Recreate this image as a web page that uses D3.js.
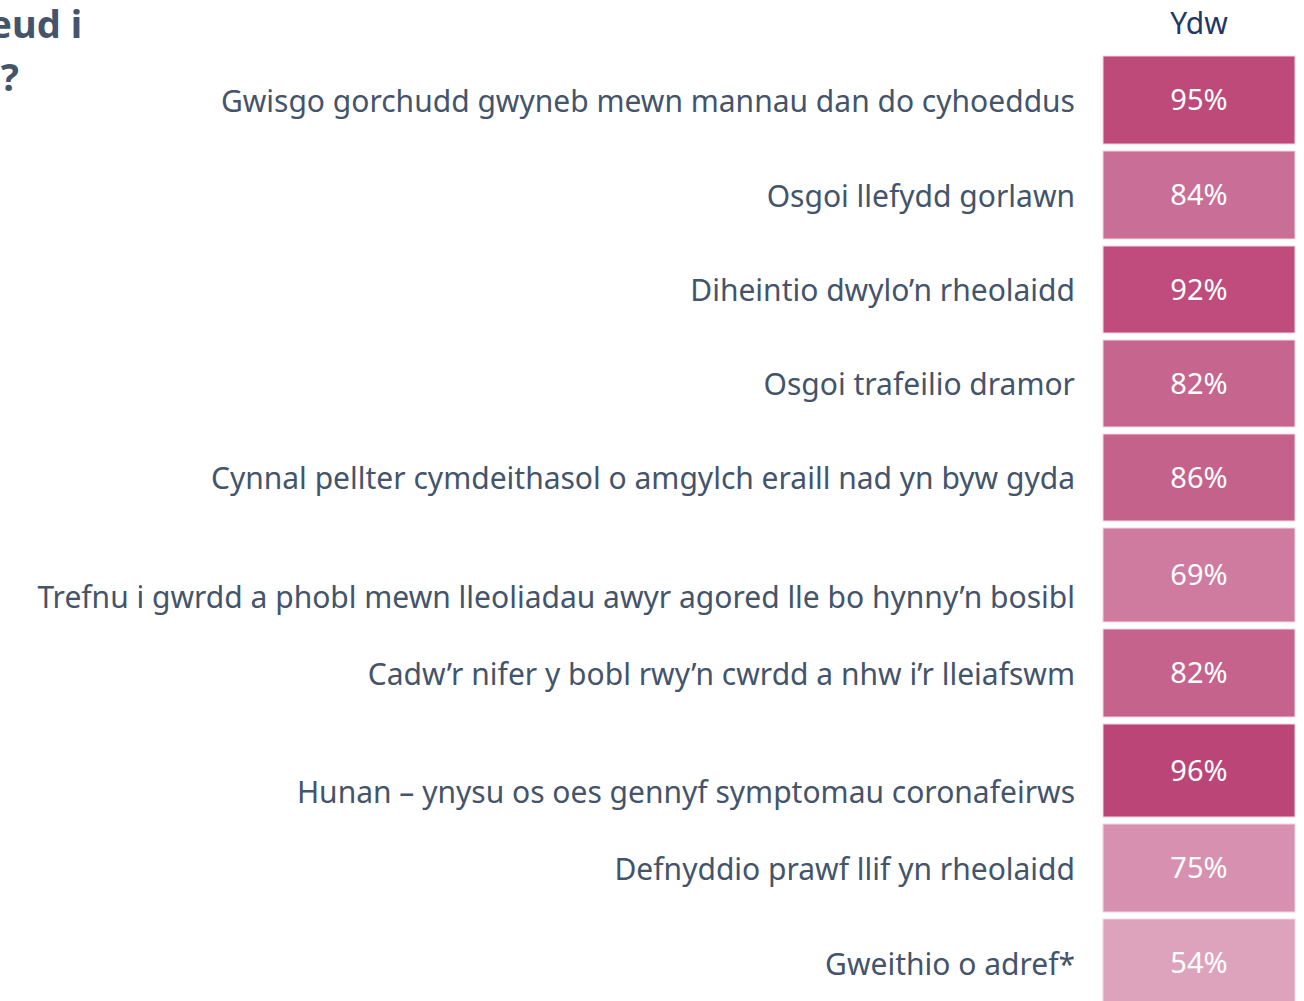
<!DOCTYPE html>
<html>
<head>
<meta charset="utf-8">
<script src="https://cdn.jsdelivr.net/npm/d3@7"></script>
<style>
  html, body { margin: 0; padding: 0; background: #fff; }
  svg { display: block; font-family: "Noto Sans", "Open Sans", sans-serif; }
</style>
</head>
<body>
<div id="chart"></div>
<script>
const labels = [
  "Gwisgo gorchudd gwyneb mewn mannau dan do cyhoeddus",
  "Osgoi llefydd gorlawn",
  "Diheintio dwylo’n rheolaidd",
  "Osgoi trafeilio dramor",
  "Cynnal pellter cymdeithasol o amgylch eraill nad yn byw gyda",
  "Trefnu i gwrdd a phobl mewn lleoliadau awyr agored lle bo hynny’n bosibl",
  "Cadw’r nifer y bobl rwy’n cwrdd a nhw i’r lleiafswm",
  "Hunan – ynysu os oes gennyf symptomau coronafeirws",
  "Defnyddio prawf llif yn rheolaidd",
  "Gweithio o adref*"
];
const column = "Ydw";
const values = [95, 84, 92, 82, 86, 69, 82, 96, 75, 54];
const cellColors = ["#be4a7a", "#c96e96", "#bf4c7c", "#c6668f", "#c5628c", "#cf7ba0", "#c5638d", "#bc4577", "#d890b0", "#dda3bd"];
const titleLines = ["eud i", "?"];

// layout: row heights (the 6th and 8th rows are a bit taller, their labels sit lower)
const rowHeights = [95, 95, 94, 94, 94, 101, 95, 100, 95, 95];
const labelShift = [0, 0, 0, 0, 0, 21, 0, 21, 0, 0];

const W = 1304, H = 1001;
const marginTop = 56, gap = 7;
const cellX0 = 1103, cellX1 = 1295;

const svg = d3.select("#chart").append("svg")
  .attr("width", W).attr("height", H);

// cumulative row positions
const rowTops = [];
rowHeights.reduce((acc, h) => { rowTops.push(acc); return acc + h; }, marginTop);

const x = d3.scaleBand().domain([column]).range([cellX0, cellX1]);

const rows = labels.map((l, i) => ({
  label: l, value: values[i], color: cellColors[i],
  y: rowTops[i], h: rowHeights[i] - gap, shift: labelShift[i]
}));

svg.selectAll("rect.cell")
  .data(rows)
  .join("rect")
  .attr("class", "cell")
  .attr("x", x(column))
  .attr("y", d => d.y)
  .attr("width", x.bandwidth())
  .attr("height", d => d.h)
  .attr("fill", d => d.color)
  .attr("stroke", "#f3d6e2")
  .attr("stroke-width", 1);

svg.selectAll("text.val")
  .data(rows)
  .join("text")
  .attr("class", "val")
  .attr("x", x(column) + x.bandwidth() / 2)
  .attr("y", d => d.y + d.h / 2)
  .attr("dy", "0.35em")
  .attr("text-anchor", "middle")
  .attr("fill", "#fff")
  .attr("font-size", 29)
  .text(d => d.value + "%");

svg.selectAll("text.lab")
  .data(rows)
  .join("text")
  .attr("class", "lab")
  .attr("x", 1075)
  .attr("y", d => d.y + d.h / 2 + d.shift + 1)
  .attr("dy", "0.35em")
  .attr("text-anchor", "end")
  .attr("fill", "#44546a")
  .attr("font-size", 30)
  .text(d => d.label);

svg.append("text")
  .attr("x", x(column) + x.bandwidth() / 2)
  .attr("y", 23)
  .attr("dy", "0.35em")
  .attr("text-anchor", "middle")
  .attr("fill", "#1f3864")
  .attr("font-size", 30)
  .text(column);

// title is partly outside the picture in the reference
svg.selectAll("text.title")
  .data(titleLines)
  .join("text")
  .attr("class", "title")
  .attr("x", (d, i) => i === 0 ? 82 : 19)
  .attr("y", (d, i) => 25 + i * 53)
  .attr("dy", "0.35em")
  .attr("text-anchor", "end")
  .attr("fill", "#44546a")
  .attr("font-size", 38)
  .attr("font-weight", "bold")
  .text(d => d);
</script>
</body>
</html>
